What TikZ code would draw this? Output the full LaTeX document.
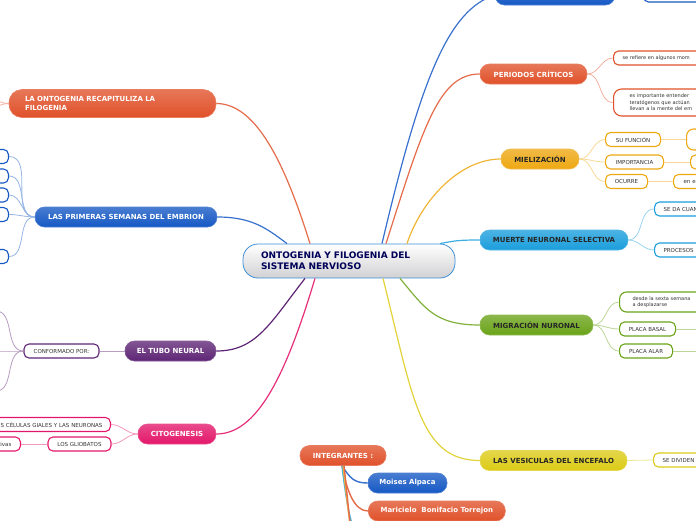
\documentclass[tikz,border=0pt]{standalone}
\usepackage{fontspec}
\setmainfont{DejaVu Sans}

\definecolor{corange}{HTML}{E0512A}
\definecolor{cblue}{HTML}{1558C4}
\definecolor{cgold}{HTML}{EEA812}
\definecolor{csky}{HTML}{1A9EDC}
\definecolor{cgreen}{HTML}{6AA318}
\definecolor{cyel}{HTML}{DCCB16}
\definecolor{cpurp}{HTML}{5E2575}
\definecolor{cpink}{HTML}{E3176A}
\definecolor{croot}{HTML}{3D8FD6}

\tikzset{
  root/.style={rounded corners=15pt, minimum height=34pt, inner xsep=18pt, inner ysep=0pt,
    text width=176pt, align=left, draw=croot, line width=.8pt,
    top color=white, bottom color=black!5!blue!3!gray!35,
    text=blue!35!black, font=\fontsize{9}{11}\selectfont\bfseries},
  topic/.style={rounded corners=9.5pt, minimum height=20pt, inner sep=0pt,
    draw=#1!75!white, line width=.6pt, top color=#1!78!white, bottom color=#1,
    text=white, font=\fontsize{7}{8.5}\selectfont\bfseries},
  topicdark/.style={topic=#1, text=black!85},
  leaf/.style={rounded corners=5pt, minimum height=14pt, inner sep=0pt,
    draw=#1, line width=1.1pt, fill=white, text=black!80,
    font=\fontsize{5.5}{6.5}\selectfont},
  trunk/.style={line width=1.2pt, draw=#1},
  twig/.style={line width=.8pt, draw=#1!45!white},
}

\begin{document}
\begin{tikzpicture}[x=1pt,y=1pt]
  \useasboundingbox (0,0) rectangle (696,-520);
  \clip (0,0) rectangle (696,-520);

  % centre
  \node[root] (root) at (349,-261) {ONTOGENIA Y FILOGENIA DEL\\SISTEMA NERVIOSO};

  % right side
  \node[topic=cblue,minimum width=120pt] (anat) at (555,5) {};
  \node[leaf=cblue,anchor=west,minimum width=80pt] (anatA) at (643,5) {};

  \node[topic=corange,minimum width=107pt] (crit) at (533.5,-74) {PERIODOS CRÍTICOS};
  \node[leaf=corange,anchor=west,text width=110pt,align=left,inner xsep=9pt,
    font=\fontsize{5}{6.5}\selectfont] (critA) at (613,-58) {se refiere en algunos mom};
  \node[leaf=corange,anchor=west,text width=110pt,align=left,inner xsep=16pt,minimum height=27pt,
    rounded corners=8pt,font=\fontsize{5}{6.5}\selectfont] (critB) at (613,-102.5)
    {es importante entender\\teratógenos que actúan\\llevan a la mente del em};

  \node[topicdark=cgold,minimum width=78pt] (miel) at (540,-159) {MIELIZACIÓN};
  \node[leaf=cgold,anchor=west,minimum width=55pt] (func) at (605,-139.5) {SU FUNCIÓN};
  \node[leaf=cgold,anchor=west,minimum width=58pt] (impo) at (605,-162) {IMPORTANCIA};
  \node[leaf=cgold,anchor=west,minimum width=42pt] (ocur) at (605,-181.5) {OCURRE};
  \node[leaf=cgold,anchor=west,minimum width=40pt,minimum height=21pt,rounded corners=7pt] (funcA) at (686,-139.5) {};
  \node[leaf=cgold,anchor=west,minimum width=40pt] (impoA) at (690,-162) {};
  \node[leaf=cgold,anchor=west,text width=60pt,align=left,inner xsep=10pt] (ocurA) at (673,-181.5) {en el};

  \node[topicdark=csky,minimum width=148pt] (muer) at (554,-240) {MUERTE NEURONAL SELECTIVA};
  \node[leaf=csky,anchor=west,text width=80pt,align=left,inner xsep=9pt] (muerA) at (654,-209) {SE DA CUAN};
  \node[leaf=csky,anchor=west,text width=80pt,align=left,inner xsep=9pt] (muerB) at (654,-250) {PROCESOS};

  \node[topicdark=cgreen,minimum width=113pt] (migr) at (536.5,-325) {MIGRACIÓN NURONAL};
  \node[leaf=cgreen,anchor=west,text width=90pt,align=left,inner xsep=13pt,minimum height=20pt,
    rounded corners=7pt,font=\fontsize{5}{6.5}\selectfont] (migrA) at (619,-302) {desde la sexta semana\\a desplazarse};
  \node[leaf=cgreen,anchor=west,minimum width=56pt] (basal) at (619,-329) {PLACA BASAL};
  \node[leaf=cgreen,anchor=west,minimum width=53pt] (alar) at (619,-351) {PLACA ALAR};
  \node[leaf=cgreen,anchor=west,minimum width=40pt] (basalA) at (710,-329) {};
  \node[leaf=cgreen,anchor=west,minimum width=40pt] (alarA) at (710,-351) {};

  \node[topicdark=cyel,minimum width=147pt] (vesi) at (553.5,-460.5) {LAS VESICULAS DEL ENCEFALO};
  \node[leaf=cyel,anchor=west,text width=80pt,align=left,inner xsep=9pt] (vesiA) at (653,-460) {SE DIVIDEN};

  % left side
  \node[topic=corange,minimum height=28pt,rounded corners=13pt,inner xsep=16pt,text width=175pt,align=left]
    (ontog) at (112.5,-103.5) {LA ONTOGENIA RECAPITULIZA LA\\FILOGENIA};
  \node[leaf=corange,anchor=east,minimum width=40pt] (ontogA) at (-25,-92) {};
  \node[leaf=corange,anchor=east,minimum width=40pt] (ontogB) at (-25,-116) {};

  \node[topic=cblue,minimum width=182pt] (prim) at (126,-217) {LAS PRIMERAS SEMANAS DEL EMBRION};
  \foreach \n/\y in {1/-156.5,2/-176,3/-195,4/-214.5,5/-256.5}
    \node[leaf=cblue,anchor=east,minimum width=40pt] (prim\n) at (9,\y) {};

  \node[topic=cpurp,minimum width=91pt] (tubo) at (170.5,-351) {EL TUBO NEURAL};
  \node[leaf=cpurp,minimum width=75pt] (conf) at (61.5,-351) {CONFORMADO POR:};
  \node[leaf=cpurp,anchor=east,minimum width=40pt] (confA) at (-4,-311) {};
  \node[leaf=cpurp,anchor=east,minimum width=40pt] (confB) at (-4,-351) {};
  \node[leaf=cpurp,anchor=east,minimum width=40pt] (confC) at (-4,-391) {};

  \node[topic=cpink,minimum width=78pt] (cito) at (177,-434) {CITOGENESIS};
  \node[leaf=cpink,anchor=east,text width=140pt,align=right,inner xsep=8pt] (citoA) at (111,-424.5) {S CÉLULAS GIALES Y LAS NEURONAS};
  \node[leaf=cpink,minimum width=63pt] (glio) at (79.5,-444) {LOS GLIOBATOS};
  \node[leaf=cpink,anchor=east,text width=40pt,align=right,inner xsep=9pt] (glioA) at (21,-444) {tivas};

  % members
  \node[topic=corange,minimum width=86pt] (integ) at (343,-455.5) {INTEGRANTES :};
  \node[topic=cblue,minimum width=79pt] (memA) at (407.5,-483) {Moises Alpaca};
  \node[topic=corange,anchor=west,minimum width=137pt] (memB) at (368,-511) {Maricielo\ \ Bonifacio Torrejon};
  \node[topic=csky,anchor=west,minimum width=100pt] (memC) at (368,-545) {};
  \node[topic=cgold,anchor=west,minimum width=100pt] (memD) at (368,-570) {};
  \node[topic=corange,anchor=west,minimum width=100pt] (memE) at (368,-595) {};

  % main connectors
  \draw[trunk=cblue!85!white] ([xshift=33pt]root.north) .. controls +(40,170) and +(-45,-15) .. (anat.west);
  \draw[trunk=corange!85!white] ([xshift=37pt]root.north) .. controls +(38,120) and +(-40,0) .. (crit.west);
  \draw[trunk=cgold!85!white] ([xshift=58pt]root.north) .. controls +(15,45) and +(-40,0) .. (miel.west);
  \draw[trunk=csky!85!white] ([xshift=91pt]root.north) .. controls +(15,3) and +(-20,0) .. (muer.west);
  \draw[trunk=cgreen!85!white] ([xshift=51pt]root.south) .. controls +(25,-30) and +(-45,0) .. (migr.west);
  \draw[trunk=cyel!85!white] ([xshift=34pt]root.south) .. controls +(30,-120) and +(-60,0) .. (vesi.west);
  \draw[trunk=corange!85!white] (ontog.east) .. controls +(40,0) and +(-25,80) .. ([xshift=-39pt]root.north);
  \draw[trunk=cblue!85!white] (prim.east) .. controls +(35,0) and +(-20,15) .. ([xshift=-62pt]root.north);
  \draw[trunk=cpurp] (tubo.east) .. controls +(40,0) and +(-35,-45) .. ([xshift=-44pt]root.south);
  \draw[trunk=cpink!90!white] (cito.east) .. controls +(40,0) and +(-30,-100) .. ([xshift=-34pt]root.south);

  % sub connectors
  \draw[twig=cblue] (anat.east) -- (anatA.west);
  \draw[twig=corange] (crit.east) to[out=0,in=180] (critA.west);
  \draw[twig=corange] (crit.east) to[out=0,in=180] (critB.west);
  \foreach \k in {func,impo,ocur}
    \draw[twig=cgold] (miel.east) to[out=0,in=180] (\k.west);
  \draw[twig=cgold] (func.east) -- (funcA.west);
  \draw[twig=cgold] (impo.east) -- (impoA.west);
  \draw[twig=cgold] (ocur.east) -- (ocurA.west);
  \draw[twig=csky] (muer.east) to[out=0,in=180] (muerA.west);
  \draw[twig=csky] (muer.east) to[out=0,in=180] (muerB.west);
  \foreach \k in {migrA,basal,alar}
    \draw[twig=cgreen] (migr.east) to[out=0,in=180] (\k.west);
  \draw[twig=cgreen] (basal.east) -- (basalA.west);
  \draw[twig=cgreen] (alar.east) -- (alarA.west);
  \draw[twig=cyel] (vesi.east) -- (vesiA.west);
  \draw[twig=corange] (ontog.west) to[out=180,in=0] (ontogA.east);
  \draw[twig=corange] (ontog.west) to[out=180,in=0] (ontogB.east);
  \foreach \n in {1,...,5}
    \draw[twig=cblue] (prim.west) to[out=180,in=0] (prim\n.east);
  \draw[twig=cpurp] (tubo.west) -- (conf.east);
  \foreach \k in {confA,confB,confC}
    \draw[twig=cpurp] (conf.west) to[out=180,in=0] (\k.east);
  \draw[twig=cpink] (cito.west) to[out=180,in=0] (citoA.east);
  \draw[twig=cpink] (cito.west) to[out=180,in=0] (glio.east);
  \draw[twig=cpink] (glio.west) -- (glioA.east);

  \draw[trunk=cblue!85!white,line width=1.4pt] ([xshift=-1pt]integ.south) .. controls +(8,-12) and +(-14,0) .. (memA.west);
  \draw[trunk=corange!85!white,line width=1.4pt] ([xshift=-1pt]integ.south) .. controls +(5,-25) and +(-14,0) .. (memB.west);
  \draw[trunk=csky!85!white,line width=1.4pt] ([xshift=-1pt]integ.south) .. controls +(6,-50) and +(-14,0) .. (memC.west);
  \draw[trunk=cgold!85!white,line width=1.4pt] ([xshift=0pt]integ.south) .. controls +(7,-60) and +(-14,0) .. (memD.west);
  \draw[trunk=corange!85!white,line width=1.4pt] ([xshift=1pt]integ.south) .. controls +(8,-70) and +(-14,0) .. (memE.west);
\end{tikzpicture}
\end{document}
